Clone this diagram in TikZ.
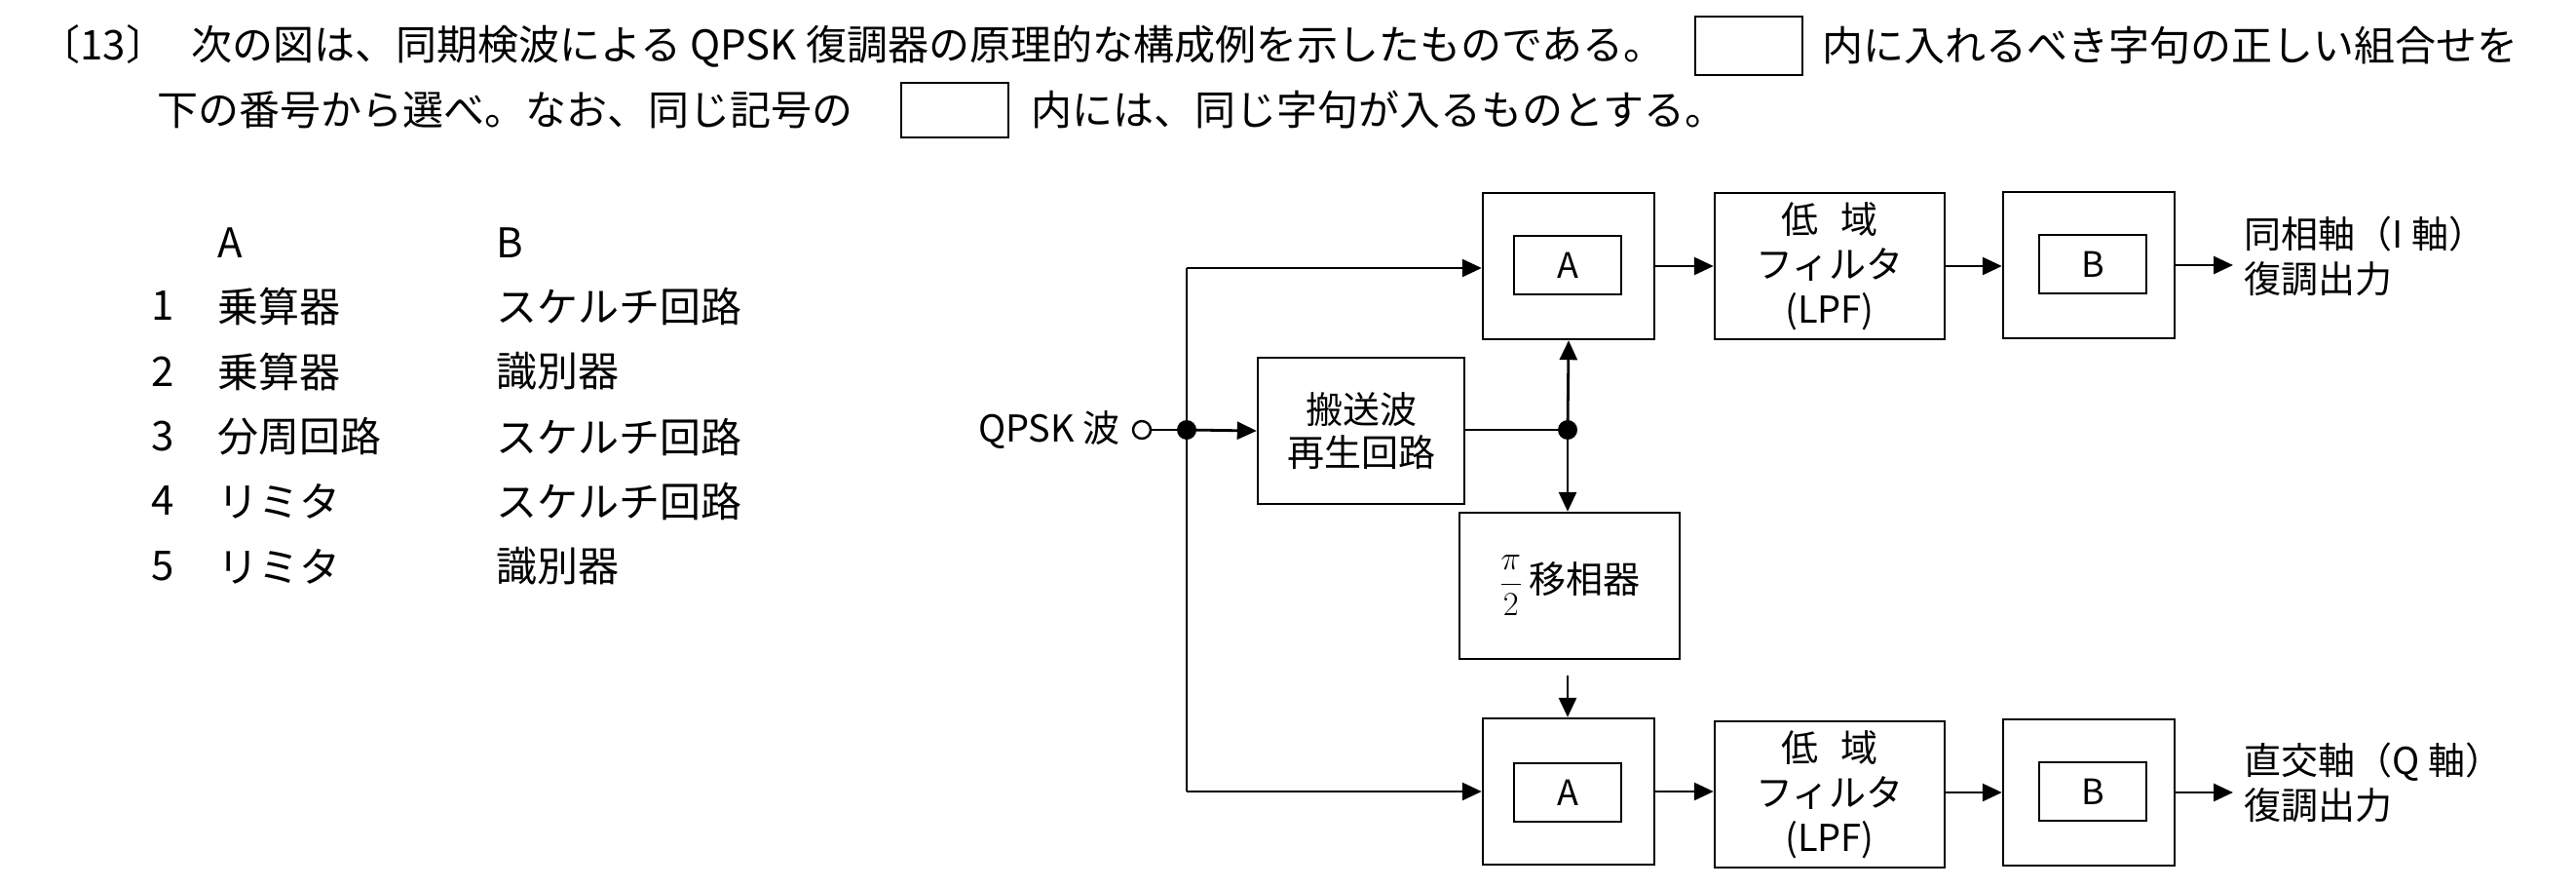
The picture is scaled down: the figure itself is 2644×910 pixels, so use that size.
\documentclass[tikz,border=0pt]{standalone}
\usepackage{fontspec}
\setmainfont{Noto Sans CJK JP}
\usetikzlibrary{arrows.meta}
\begin{document}
\begin{tikzpicture}[x=0.5pt,y=-0.5pt,
  box/.style={draw,line width=1.2pt,minimum width=88pt,minimum height=75pt,inner sep=0pt,font=\fontsize{19}{22}\selectfont},
  inbox/.style={draw,line width=1pt,minimum width=55pt,minimum height=30pt,inner sep=0pt,font=\fontsize{18}{20}\selectfont},
  lbl/.style={font=\fontsize{19}{23}\selectfont,align=left,inner sep=0pt},
  txt/.style={font=\fontsize{21}{25}\selectfont,anchor=west,inner sep=0pt},
  ar/.style={line width=1.4pt,-{Triangle[length=10pt,width=9pt]}},
  ln/.style={line width=1.4pt},
  dot/.style={circle,fill,inner sep=0pt,minimum width=8pt,minimum height=10pt}]
\useasboundingbox (0,0) rectangle (2644,910);
% question text
\node[txt] (q1) at (40,47) {〔13〕\hspace{0.6em}次の図は、同期検波による QPSK 復調器の原理的な構成例を示したものである。};
\node[draw,line width=1pt,minimum width=55pt,minimum height=30pt] (qb1) at (1795,47) {};
\node[txt] (q1b) at (1870,47) {内に入れるべき字句の正しい組合せを};
\node[txt] (q2) at (161,113) {下の番号から選べ。なお、同じ記号の};
\node[draw,line width=1pt,minimum width=55pt,minimum height=28pt] (qb2) at (980,113) {};
\node[txt] (q2b) at (1058,113) {内には、同じ字句が入るものとする。};
% table
\node[txt] (hA) at (223,249) {A};
\node[txt] (hB) at (509,249) {B};
\foreach \n/\a/\b/\y in {1/乗算器/スケルチ回路/314,2/乗算器/識別器/381,3/分周回路/スケルチ回路/448,4/リミタ/スケルチ回路/514,5/リミタ/識別器/581}{
  \node[txt] (n\n) at (155,\y) {\n};
  \node[txt] (a\n) at (223,\y) {\a};
  \node[txt] (b\n) at (509,\y) {\b};
}
% diagram
\node[box] (A1) at (1610,273) {};
\node[inbox] (A1i) at (1609,272) {A};
\node[box,minimum width=118pt] (L1) at (1878,273) {};
\node[lbl,align=center] at (1878,273) {低\hspace{0.6em}域\\フィルタ\\(LPF)};
\node[box] (B1) at (2144,272) {};
\node[inbox] (B1i) at (2148,271) {B};
\node[box] (A2) at (1610,812) {};
\node[inbox] (A2i) at (1609,813) {A};
\node[box,minimum width=118pt] (L2) at (1878,815) {};
\node[lbl,align=center] at (1878,815) {低\hspace{0.6em}域\\フィルタ\\(LPF)};
\node[box] (B2) at (2144,813) {};
\node[inbox] (B2i) at (2148,812) {B};
\node[box,minimum width=106pt,minimum height=75pt,align=center] (C) at (1397,442) {搬送波\\再生回路};
\node[box,minimum width=113pt,minimum height=75pt] (P) at (1611,601) {$\displaystyle\frac{\pi}{2}$\,移相器};
\node[lbl,anchor=north west] (o1) at (2303,222) {同相軸（I 軸）\\復調出力};
\node[lbl,anchor=north west] (o2) at (2303,762) {直交軸（Q 軸）\\復調出力};
\node[lbl,anchor=east] (in) at (1150,441) {QPSK 波};
\node[draw,circle,line width=1.2pt,minimum size=9pt,inner sep=0pt] (ic) at (1172,441) {};
\coordinate (j) at (1218,441);
\coordinate (j2) at (1609,441);
\coordinate (jt) at (1218,275);
\coordinate (jb) at (1218,812);
\draw[ln] (ic) -- (j);
\draw[ar] (j) -- (C.west);
\draw[ln] (jt) -- (jb);
\draw[ar] (jt) -- (A1.west|-jt);
\draw[ar] (jb) -- (A2.west);
\node[dot] (d1) at (j) {};
\draw[ln] (C.east|-j2) -- (j2);
\node[dot] (d2) at (j2) {};
\draw[ar] (j2) -- (A1.south);
\draw[ar] (j2) -- (P.north-|j2);
\draw[ar] ([yshift=-8pt]P.south-|j2) -- (A2.north-|j2);
\draw[ar] (A1) -- (L1);
\draw[ar] (L1) -- (B1.west|-L1);
\draw[ar] (B1.east) -- (2292,272);
\draw[ar] (A2) -- (L2.west|-A2);
\draw[ar] (L2.east|-B2) -- (B2);
\draw[ar] (B2.east) -- (2292,813);
\end{tikzpicture}
\end{document}
